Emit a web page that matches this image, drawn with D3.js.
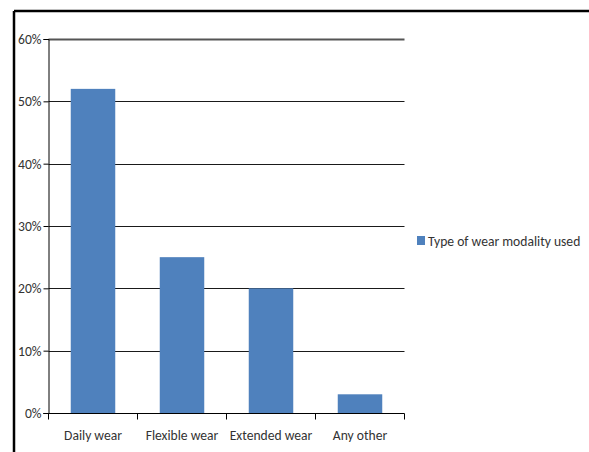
<!DOCTYPE html>
<html>
<head>
<meta charset="utf-8">
<script src="https://cdn.jsdelivr.net/npm/d3@7"></script>
<style>
  html, body { margin: 0; padding: 0; background: #fff; }
  svg { display: block; }
  text { font-family: Carlito, "Liberation Sans Narrow", "DejaVu Sans Condensed", "Open Sans", sans-serif; fill: #333; }
</style>
</head>
<body>
<svg id="chart" width="589" height="452"></svg>
<script>
// Wear modality survey: share of respondents per modality
const categories = ["Daily wear", "Flexible wear", "Extended wear", "Any other"];
const shares = [52, 25, 20, 3];
const yTicks = [0, 10, 20, 30, 40, 50, 60];
const seriesName = "Type of wear modality used";

const svg = d3.select("#chart");
const W = 589, H = 452;
const FS = 13.6;
const FONT = 'Carlito, "Liberation Sans Narrow", "DejaVu Sans Condensed", sans-serif';

// outer frame: top and left edges
svg.append("line").attr("x1", 14).attr("x2", W).attr("y1", 11).attr("y2", 11)
  .attr("stroke", "#000").attr("stroke-width", 2.5);
svg.append("line").attr("x1", 14).attr("x2", 14).attr("y1", 11).attr("y2", H)
  .attr("stroke", "#000").attr("stroke-width", 2.5);

const plotLeft = 48.5, plotRight = 404.5, plotTop = 39, plotBottom = 413;

const x = d3.scaleBand().domain(categories).range([plotLeft, plotRight]).paddingInner(0.5).paddingOuter(0.25);
const y = d3.scaleLinear().domain([0, 60]).range([plotBottom, plotTop]);

// horizontal gridlines
svg.append("g").selectAll("line").data(yTicks.filter(d => d > 0)).join("line")
  .attr("x1", plotLeft).attr("x2", plotRight)
  .attr("y1", d => Math.round(y(d)) + 0.5).attr("y2", d => Math.round(y(d)) + 0.5)
  .attr("stroke", d => d === 60 ? "#555" : "#1a1a1a")
  .attr("stroke-width", d => d === 60 ? 2 : 1);

// bars
svg.append("g").selectAll("rect").data(categories).join("rect")
  .attr("x", d => x(d))
  .attr("width", x.bandwidth())
  .attr("y", (d, i) => y(shares[i]))
  .attr("height", (d, i) => plotBottom - y(shares[i]))
  .attr("fill", "#4F81BD");

// y axis
const yAxis = d3.axisLeft(y).tickValues(yTicks).tickFormat(d => d + "%").tickSize(5).tickPadding(2);
const gy = svg.append("g").attr("transform", `translate(${plotLeft},0)`).call(yAxis);
gy.select(".domain").attr("stroke", "#000");
gy.selectAll(".tick line").attr("stroke", "#000");
gy.selectAll(".tick text").attr("font-size", FS).attr("fill", "#404040").style("font-family", FONT);

// x axis with boundary tick marks between categories
const gx = svg.append("g").attr("transform", `translate(0,${plotBottom + 0.5})`);
gx.append("line").attr("x1", plotLeft - 5).attr("x2", plotRight).attr("stroke", "#000");
const bounds = d3.range(categories.length + 1).map(i => plotLeft + i * (plotRight - plotLeft) / categories.length);
gx.selectAll("line.tk").data(bounds).join("line").attr("class", "tk")
  .attr("x1", d => d).attr("x2", d => d).attr("y1", 0).attr("y2", 6).attr("stroke", "#000");
gx.selectAll("text").data(categories).join("text")
  .attr("x", d => x(d) + x.bandwidth() / 2)
  .attr("y", 26)
  .attr("text-anchor", "middle")
  .attr("font-size", FS)
  .attr("fill", "#404040")
  .text(d => d);

// legend
const lg = svg.append("g").attr("transform", "translate(417,236)");
lg.append("rect").attr("width", 8).attr("height", 9).attr("fill", "#4F81BD");
lg.append("text").attr("x", 11).attr("y", 10).attr("font-size", FS).attr("fill", "#404040").text(seriesName);
</script>
</body>
</html>
